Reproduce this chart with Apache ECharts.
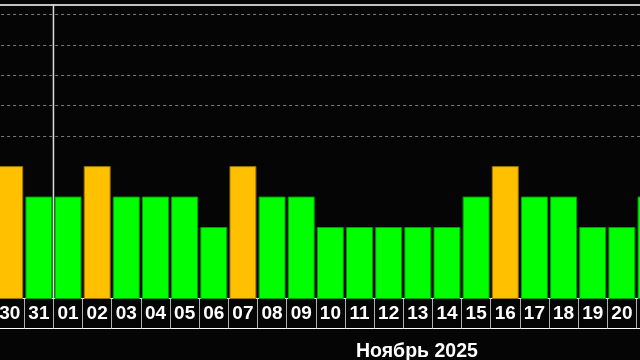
<!DOCTYPE html>
<html>
<head>
<meta charset="utf-8">
<script src="https://cdn.jsdelivr.net/npm/echarts@6/dist/echarts.min.js"></script>
<style>html,body{margin:0;padding:0;background:#050505;}#c{width:640px;height:360px;}</style>
</head>
<body>
<div id="c"></div>
<script>
var days = ['30','31','01','02','03','04','05','06','07','08','09','10','11','12','13','14','15','16','17','18','19','20','21'];
var kp = [4,3,3,4,3,3,3,2,4,3,3,2,2,2,2,2,3,4,3,3,2,2,3];
var gridLevels = [5,6,7,8,9];
var monthTitle = 'Ноябрь 2025';
var monthStartDay = '01';
var yMin = -1/3, yMax = 28/3;

function barColor(v){ return v >= 4 ? '#ffc000' : '#00ff00'; }
function barBorder(v){ return v >= 4 ? '#9a7400' : '#00a000'; }

var chart = echarts.init(document.getElementById('c'), null, {renderer:'canvas'});
chart.setOption({
  backgroundColor: '#050505',
  animation: false,
  title: {
    text: monthTitle,
    left: 351, top: 337,
    textStyle: {color:'#ffffff', fontFamily:'Liberation Sans', fontWeight:'bold', fontSize:19.5}
  },
  grid: {left: -4.85, width: 670.45, top: 4.3, height: 294.2, containLabel: false, outerBoundsMode: 'none'},
  xAxis: [{
    type: 'category',
    data: days,
    position: 'bottom',
    boundaryGap: true,
    axisLine: {show: true, onZero: false, lineStyle: {color:'#ffffff', width:1}},
    axisTick: {show: true, interval: 0, length: 30, lineStyle: {color:'#b0b0b0', width:1}},
    axisLabel: {
      interval: 0, margin: 6, color:'#ffffff',
      fontFamily:'Liberation Sans', fontWeight:'bold', fontSize:19
    },
    splitLine: {show:false}
  }, {
    type: 'category',
    data: days,
    position: 'bottom',
    offset: 30,
    axisLine: {show: true, onZero: false, lineStyle: {color:'#ffffff', width:1}},
    axisTick: {show:false},
    axisLabel: {show:false}
  }, {
    type: 'category',
    data: days,
    position: 'top',
    axisLine: {show: true, onZero: false, lineStyle: {color:'#ffffff', width:1.5}},
    axisTick: {show:false},
    axisLabel: {show:false}
  }],
  yAxis: {
    type: 'value',
    min: yMin, max: yMax,
    show: false,
    splitLine: {show:false}
  },
  series: [{
    type: 'custom',
    xAxisIndex: 0,
    data: kp.map(function(v, i){ return [i, v]; }),
    encode: {x: 0, y: 1},
    renderItem: function(params, api){
      var x = api.value(0), v = api.value(1);
      var top = api.coord([x, v]);
      var bot = api.coord([x, yMin]);
      var w = api.size([1, 0])[0] * 0.89;
      return {
        type: 'rect',
        shape: {x: top[0] - w / 2, y: top[1], width: w, height: bot[1] - top[1]},
        style: {fill: barColor(v), stroke: barBorder(v), lineWidth: 1}
      };
    },
    markLine: {
      silent: true,
      symbol: ['none','none'],
      label: {show:false},
      lineStyle: {color:'#7a7a7a', type:[3,3], width:1},
      data: gridLevels.map(function(l){ return {yAxis: l}; })
    }
  }, {
    type: 'custom',
    xAxisIndex: 0,
    z: 5,
    data: [[days.indexOf(monthStartDay)]],
    encode: {x: 0},
    renderItem: function(params, api){
      var x = api.value(0);
      var top = api.coord([x, yMax]);
      var bot = api.coord([x, yMin]);
      var half = api.size([1, 0])[0] / 2;
      var px = top[0] - half;
      return {
        type: 'line',
        shape: {x1: px, y1: top[1], x2: px, y2: bot[1]},
        style: {stroke: '#dddddd', lineWidth: 1.5}
      };
    }
  }]
});
</script>
</body>
</html>
